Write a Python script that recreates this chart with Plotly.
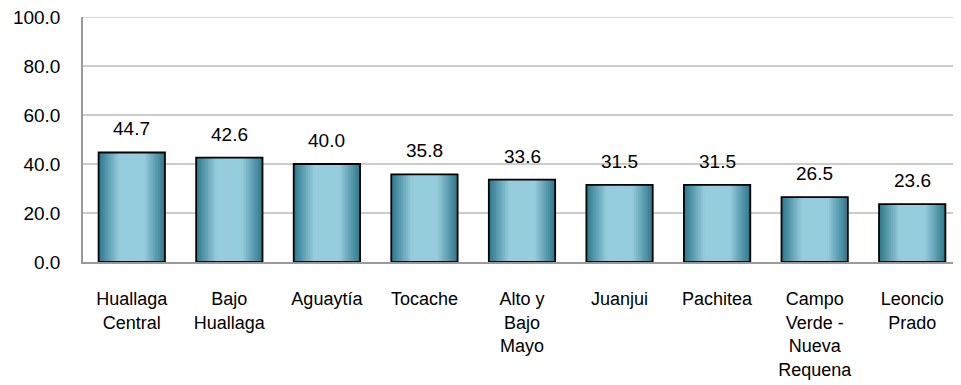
import plotly.graph_objects as go

categories = ["Huallaga<br>Central", "Bajo<br>Huallaga", "Aguaytía", "Tocache",
              "Alto y<br>Bajo<br>Mayo", "Juanjui", "Pachitea",
              "Campo<br>Verde -<br>Nueva<br>Requena", "Leoncio<br>Prado"]
values = [44.7, 42.6, 40.0, 35.8, 33.6, 31.5, 31.5, 26.5, 23.6]
y_ticks = [0, 20, 40, 60, 80, 100]

FONT = "Liberation Sans, Arial"
FS = 19
BAR_W = 0.68
N = 14
dark = (50, 124, 144)
light = (150, 205, 221)

fig = go.Figure()
for k in range(N):
    t = k / (N - 1)
    t2 = min(1.0, t * 1.6)
    c = tuple(int(dark[i] + (light[i] - dark[i]) * t2) for i in range(3))
    fig.add_trace(go.Bar(
        x=categories, y=values, width=BAR_W * (1 - k / N),
        marker=dict(color=f"rgb{c}", line=dict(width=0)),
        hoverinfo="skip", showlegend=False))
fig.add_trace(go.Bar(
    x=categories, y=values, width=BAR_W,
    marker=dict(color="rgba(0,0,0,0)", line=dict(color="black", width=1.8)),
    showlegend=False))

for c, v in zip(categories, values):
    fig.add_annotation(x=c, y=v, text=f"{v:.1f}", showarrow=False,
                       yanchor="bottom", yshift=11,
                       font=dict(family=FONT, size=FS, color="black"))

# top gridline (at the last tick), which plotly omits at the range edge
fig.add_shape(type="line", xref="paper", yref="y", x0=0, x1=1,
              y0=y_ticks[-1], y1=y_ticks[-1],
              line=dict(color="#cccccc", width=1.5), layer="below")

fig.update_layout(
    barmode="overlay",
    width=953, height=377,
    margin=dict(l=75, r=0, t=9, b=123),
    plot_bgcolor="white", paper_bgcolor="white",
    font=dict(family=FONT, size=FS, color="black"),
)
fig.update_xaxes(showline=True, linecolor="#9a9a9a", linewidth=1.5,
                 ticks="", ticklabelstandoff=20, tickfont=dict(size=18))
fig.update_yaxes(range=[0, 100], tickvals=y_ticks, tickformat=".1f",
                 showgrid=True, gridcolor="#cccccc", gridwidth=1.5,
                 showline=True, linecolor="#9a9a9a", linewidth=1.5,
                 ticks="", ticklabelstandoff=17, tickfont=dict(size=FS),
                 ticklabeloverflow="allow", zeroline=False)

fig.write_html("out.html")
